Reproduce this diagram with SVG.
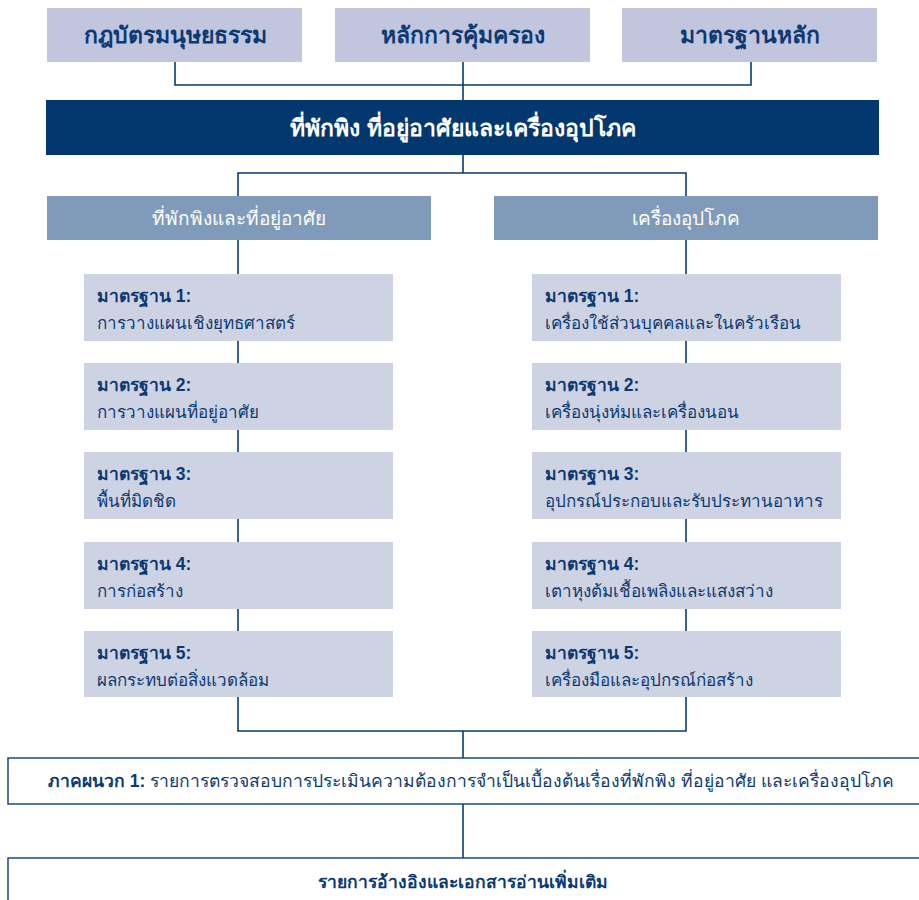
<svg xmlns="http://www.w3.org/2000/svg" width="919" height="900" viewBox="0 0 919 900">
<style>
text{font-family:"Liberation Sans","Noto Sans",sans-serif;}
.top{fill:#c1c5de;}
.topt{font-size:23px;font-weight:bold;fill:#0b3a72;text-anchor:middle;}
.hdr{fill:#03386f;}
.hdrt{font-size:23px;font-weight:bold;fill:#ffffff;text-anchor:middle;}
.sec{fill:#7f9bb9;}
.sect{font-size:19px;fill:#ffffff;text-anchor:middle;}
.std{fill:#ced3e4;}
.stdh{font-size:17.5px;font-weight:bold;fill:#0b3a72;}
.stdt{font-size:17px;fill:#0b3a72;}
.app{fill:#ffffff;stroke:#1a4a80;stroke-width:1.5;}
.appt{font-size:17.5px;fill:#0b3a72;text-anchor:middle;}
.conn{fill:none;stroke:#0b3a72;stroke-width:1.6;}
</style>
<g id="connectors">
<path class="conn" d="M175 62V85H751V62M463 62V100"/>
<path class="conn" d="M463 155V173M238 196V173H686V196"/>
<path class="conn" d="M238 240V731H686V240M463 731V758"/>
<path class="conn" d="M463 804V858"/>
</g>
<g id="n-charter"><rect class="top" x="47" y="8" width="255" height="54"/><text class="topt" x="175" y="43">กฎบัตรมนุษยธรรม</text></g>
<g id="n-protection"><rect class="top" x="335" y="8" width="255" height="54"/><text class="topt" x="463" y="43">หลักการคุ้มครอง</text></g>
<g id="n-core"><rect class="top" x="622" y="8" width="255" height="54"/><text class="topt" x="750" y="43">มาตรฐานหลัก</text></g>
<g id="n-header"><rect class="hdr" x="46" y="100" width="833" height="55"/><text class="hdrt" x="463" y="136">ที่พักพิง ที่อยู่อาศัยและเครื่องอุปโภค</text></g>
<g id="n-shelter"><rect class="sec" x="47" y="196" width="384" height="44"/><text class="sect" x="239" y="225">ที่พักพิงและที่อยู่อาศัย</text></g>
<g id="n-nfi"><rect class="sec" x="494" y="196" width="384" height="44"/><text class="sect" x="686" y="225">เครื่องอุปโภค</text></g>
<g id="n-s1"><rect class="std" x="84" y="274" width="309" height="67"/><text class="stdh" x="97" y="302">มาตรฐาน 1:</text><text class="stdt" x="97" y="329">การวางแผนเชิงยุทธศาสตร์</text></g>
<g id="n-s2"><rect class="std" x="84" y="363" width="309" height="67"/><text class="stdh" x="97" y="391">มาตรฐาน 2:</text><text class="stdt" x="97" y="418">การวางแผนที่อยู่อาศัย</text></g>
<g id="n-s3"><rect class="std" x="84" y="452" width="309" height="67"/><text class="stdh" x="97" y="480">มาตรฐาน 3:</text><text class="stdt" x="97" y="507">พื้นที่มิดชิด</text></g>
<g id="n-s4"><rect class="std" x="84" y="542" width="309" height="67"/><text class="stdh" x="97" y="570">มาตรฐาน 4:</text><text class="stdt" x="97" y="597">การก่อสร้าง</text></g>
<g id="n-s5"><rect class="std" x="84" y="631" width="309" height="66"/><text class="stdh" x="97" y="659">มาตรฐาน 5:</text><text class="stdt" x="97" y="686">ผลกระทบต่อสิ่งแวดล้อม</text></g>
<g id="n-n1"><rect class="std" x="532" y="274" width="309" height="67"/><text class="stdh" x="545" y="302">มาตรฐาน 1:</text><text class="stdt" x="545" y="329">เครื่องใช้ส่วนบุคคลและในครัวเรือน</text></g>
<g id="n-n2"><rect class="std" x="532" y="363" width="309" height="67"/><text class="stdh" x="545" y="391">มาตรฐาน 2:</text><text class="stdt" x="545" y="418">เครื่องนุ่งห่มและเครื่องนอน</text></g>
<g id="n-n3"><rect class="std" x="532" y="452" width="309" height="67"/><text class="stdh" x="545" y="480">มาตรฐาน 3:</text><text class="stdt" x="545" y="507">อุปกรณ์ประกอบและรับประทานอาหาร</text></g>
<g id="n-n4"><rect class="std" x="532" y="542" width="309" height="67"/><text class="stdh" x="545" y="570">มาตรฐาน 4:</text><text class="stdt" x="545" y="597">เตาหุงต้มเชื้อเพลิงและแสงสว่าง</text></g>
<g id="n-n5"><rect class="std" x="532" y="631" width="309" height="66"/><text class="stdh" x="545" y="659">มาตรฐาน 5:</text><text class="stdt" x="545" y="686">เครื่องมือและอุปกรณ์ก่อสร้าง</text></g>
<g id="n-appendix"><rect class="app" x="8" y="758" width="915" height="46"/><text class="appt" x="471" y="787"><tspan font-weight="bold">ภาคผนวก 1:</tspan> รายการตรวจสอบการประเมินความต้องการจำเป็นเบื้องต้นเรื่องที่พักพิง ที่อยู่อาศัย และเครื่องอุปโภค</text></g>
<g id="n-refs"><rect class="app" x="8" y="858" width="915" height="50"/><text class="appt" x="463" y="888" font-weight="bold">รายการอ้างอิงและเอกสารอ่านเพิ่มเติม</text></g>
</svg>
